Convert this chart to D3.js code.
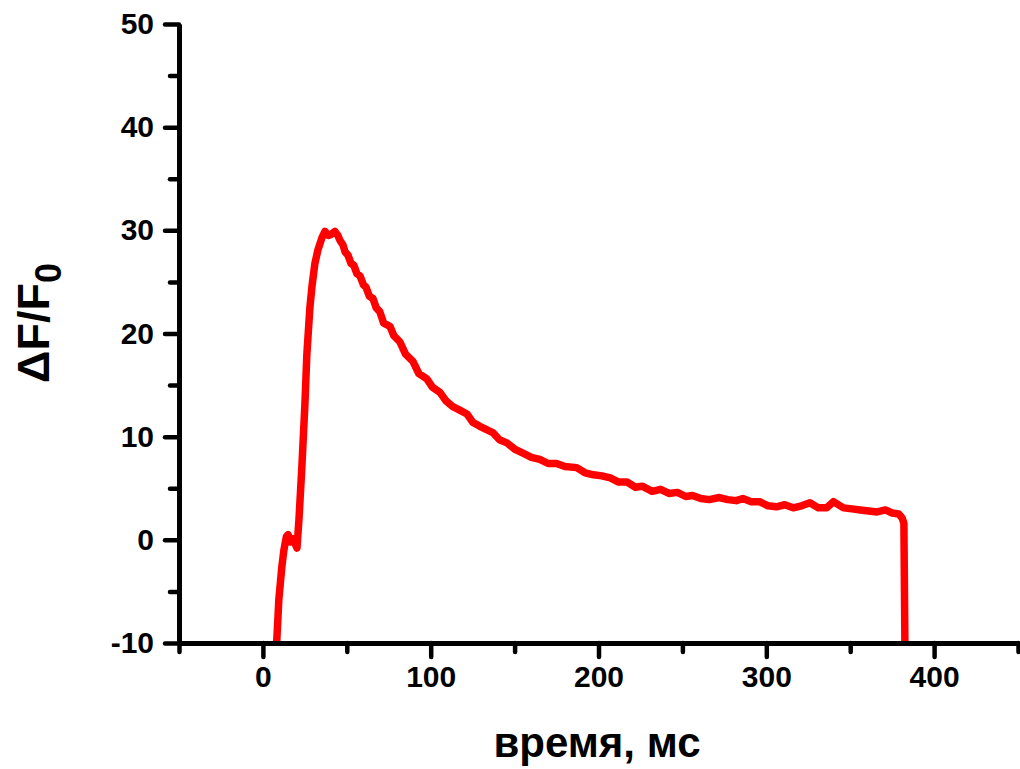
<!DOCTYPE html>
<html>
<head>
<meta charset="utf-8">
<script src="https://cdn.jsdelivr.net/npm/d3@7"></script>
<style>
	body { margin: 0; background: #fff; }
	text { font-family: "Liberation Sans", Arial, sans-serif; font-weight: bold; }
</style>
</head>
<body>
<div id="chart"></div>
<script>
// время (мс) и dF/F0
const time = [8.2, 9.5, 11.3, 12.5, 14.0, 15.0, 16.5, 18, 20.3, 21.5, 23.2, 25, 26.2, 28, 29.2, 31, 32.8, 35.2, 37, 39,
	40.5, 42.9, 44.7, 46, 47.7, 49, 50.7, 52.5, 54.2, 56, 57.8, 60, 61.4, 63.5, 65.6, 67.5, 69.7, 72, 75.7, 78,
	81.6, 85, 89.4, 93, 97.7, 101, 105.5, 109, 113.2, 117, 121.6, 125, 129.3, 133, 137, 141, 145.4, 150, 155, 160,
	165, 170, 175, 180, 187, 192, 197, 202, 207, 212, 217, 222, 226, 232, 237, 242, 247, 252, 256, 261,
	266, 272, 277, 282, 286, 291, 296, 301, 306, 311, 316, 321, 326, 331, 336, 340, 346, 351, 356, 361,
	366, 371, 375, 379, 381, 382, 382.6];
const dff = [-10, -5.8, -2.6, -1, 0.3, 0.5, -0.2, 0.1, -0.8, 2, 7, 13, 18, 22.5, 24.5, 26.8, 28.1, 29.3, 29.9, 29.5,
	29.6, 29.9, 29.5, 29.0, 28.6, 27.9, 27.6, 26.8, 26.6, 25.8, 25.6, 24.7, 24.5, 23.6, 23.4, 22.5, 22.1, 21.0, 20.7, 19.8,
	19.2, 18.0, 17.3, 16.1, 15.6, 14.8, 14.3, 13.5, 12.9, 12.6, 12.2, 11.4, 11.0, 10.7, 10.4, 9.7, 9.4, 8.8, 8.4, 8.0,
	7.8, 7.4, 7.4, 7.1, 7.0, 6.5, 6.3, 6.2, 6.0, 5.6, 5.6, 5.1, 5.2, 4.7, 4.9, 4.5, 4.6, 4.2, 4.3, 4.0,
	3.9, 4.1, 3.9, 3.8, 4.0, 3.7, 3.7, 3.3, 3.2, 3.4, 3.1, 3.3, 3.6, 3.1, 3.1, 3.7, 3.1, 3.0, 2.9, 2.8,
	2.7, 2.9, 2.6, 2.5, 2.1, 1.6, -10];

const xMajor = [0, 100, 200, 300, 400];
const xMinor = [-50, 50, 150, 250, 350, 450];
const yMajor = [-10, 0, 10, 20, 30, 40, 50];
const yMinor = [-5, 5, 15, 25, 35, 45];

const W = 1020, H = 769;
const LEFT = 179, RIGHT = 1018, TOP = 24, BOTTOM = 643;

const svg = d3.select("#chart")
	.append("svg")
		.attr("width", W)
		.attr("height", H);

const x = d3.scaleLinear().domain([-50, 450]).range([LEFT, RIGHT]);
const y = d3.scaleLinear().domain([-10, 50]).range([BOTTOM, TOP]);

// кривая
svg.append("clipPath").attr("id", "plot")
	.append("rect")
		.attr("x", LEFT).attr("y", TOP)
		.attr("width", RIGHT - LEFT).attr("height", BOTTOM - TOP);

const pts = time.map((t, i) => [t, dff[i]]);
svg.append("path")
	.datum(pts)
	.attr("clip-path", "url(#plot)")
	.attr("fill", "none")
	.attr("stroke", "#f00")
	.attr("stroke-width", 7.5)
	.attr("stroke-linejoin", "round")
	.attr("d", d3.line().x(d => x(d[0])).y(d => y(d[1])));

// оси
function styleAxis(g){
	g.selectAll("path").attr("stroke", "#000").attr("stroke-width", 5);
	g.selectAll("line").attr("stroke", "#000").attr("stroke-width", 4.5).attr("stroke-linecap", "round");
	g.selectAll("text").attr("fill", "#000").style("font-size", "30px");
}

const plain = d => String(d);   // обычный дефис вместо U+2212

svg.append("g")
	.attr("transform", `translate(0,${BOTTOM})`)
	.call(d3.axisBottom(x).tickValues(xMinor).tickSize(9).tickFormat("").tickSizeOuter(0))
	.call(styleAxis);
svg.append("g")
	.attr("transform", `translate(0,${BOTTOM})`)
	.call(d3.axisBottom(x).tickValues(xMajor).tickSize(14).tickPadding(9).tickFormat(plain).tickSizeOuter(0))
	.call(styleAxis)
	.call(g => g.select(".domain").remove());

svg.append("g")
	.attr("transform", `translate(${LEFT},0)`)
	.call(d3.axisLeft(y).tickValues(yMinor).tickSize(9).tickFormat("").tickSizeOuter(0))
	.call(styleAxis);
svg.append("g")
	.attr("transform", `translate(${LEFT},0)`)
	.call(d3.axisLeft(y).tickValues(yMajor).tickSize(14).tickPadding(11).tickFormat(plain).tickSizeOuter(0))
	.call(styleAxis)
	.call(g => g.select(".domain").remove());

// подписи осей
svg.append("text")
	.attr("x", 597)
	.attr("y", 757)
	.attr("text-anchor", "middle")
	.style("font-size", "42px")
	.text("время, мс");

const yl = svg.append("text")
	.attr("transform", "translate(49,323) rotate(-90)")
	.attr("text-anchor", "middle")
	.style("font-size", "45px");
yl.append("tspan").text("ΔF/F");
yl.append("tspan").attr("dy", 12).style("font-size", "36px").text("0");
</script>
</body>
</html>
